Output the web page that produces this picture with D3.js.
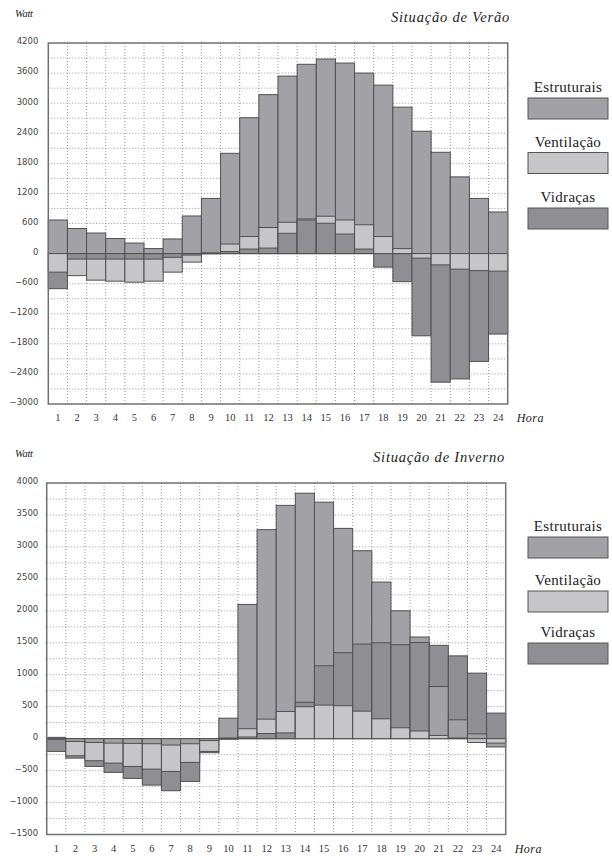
<!DOCTYPE html>
<html>
<head>
<meta charset="utf-8">
<script src="https://cdn.jsdelivr.net/npm/d3@7"></script>
<style>
  body { margin: 0; background: #fff; }
  svg { display: block; }
  .grid line { stroke: #8c8c8c; stroke-width: 0.9; stroke-dasharray: 1, 2; }
  .y-axis text { font-family: "DejaVu Sans", sans-serif; font-size: 8.5px; fill: #444; }
  .x-axis text { font-family: "Liberation Serif", serif; font-size: 10.5px; fill: #333; }
  .serif { font-family: "Liberation Serif", serif; fill: #222; }
</style>
</head>
<body>
<div id="chart-area"></div>
<script>
/* global d3 */
const hours = [1, 2, 3, 4, 5, 6, 7, 8, 9, 10, 11, 12, 13, 14, 15, 16, 17, 18, 19, 20, 21, 22, 23, 24];
const seriesNames = ["Estruturais", "Ventilação", "Vidraças"];
const seriesColors = ["#a2a2a6", "#c6c6c8", "#8f8f93"];

// Situação de Verão (W)
const summerEstruturais = [670, 500, 410, 300, 210, 100, 290, 750, 1100, 2000, 2710, 3170, 3540, 3775, 3880, 3800, 3600, 3360, 2920, 2440, 2020, 1530, 1100, 830];
const summerVentilacao = [-370, -440, -530, -550, -570, -550, -370, -170, -5, 190, 340, 520, 625, 690, 745, 670, 575, 340, 100, -90, -225, -310, -340, -350];
const summerVidracas = [-700, -110, -110, -110, -110, -110, -75, -30, 15, 40, 90, 110, 405, 670, 605, 390, 90, -270, -560, -1640, -2565, -2500, -2150, -1605];
const summerTicks = [4200, 3600, 3000, 2400, 1800, 1200, 600, 0, -600, -1200, -1800, -2400, -3000];

// Situação de Inverno (W)
const winterEstruturais = [20, -44, -60, -70, -75, -80, -100, -80, -30, 320, 2100, 3270, 3650, 3840, 3700, 3290, 2940, 2450, 2000, 1590, 815, 295, 75, -130];
const winterVentilacao = [-10, -268, -346, -383, -435, -477, -513, -372, -200, -10, 155, 305, 425, 500, 525, 515, 430, 310, 170, 120, 50, 10, -60, -70];
const winterVidracas = [-200, -305, -435, -528, -622, -727, -815, -669, -220, 10, 25, 80, 90, 570, 1140, 1345, 1480, 1500, 1470, 1505, 1460, 1295, 1025, 400];
const winterTicks = [4000, 3500, 3000, 2500, 2000, 1500, 1000, 500, 0, -500, -1000, -1500];

let svg = d3
  .select("#chart-area")
  .append("svg")
  .attr("width", 612)
  .attr("height", 856);

function drawPanel(p) {
  let g = svg.append("g");

  let x = d3.scaleBand().domain(hours).range([p.left, p.right]);
  let y = d3.scaleLinear().domain(p.domain).range([p.bottom, p.top]);

  // dotted grid
  let grid = g.append("g").attr("class", "grid");
  grid.selectAll("line.h")
    .data(d3.range(p.domain[0] + p.gridStep, p.domain[1], p.gridStep))
    .join("line")
    .attr("class", "h")
    .attr("x1", p.left).attr("x2", p.right)
    .attr("y1", d => y(d)).attr("y2", d => y(d));
  grid.selectAll("line.v")
    .data(hours.slice(1))
    .join("line")
    .attr("class", "v")
    .attr("x1", d => x(d)).attr("x2", d => x(d))
    .attr("y1", p.top).attr("y2", p.bottom);

  // overlapped bars: in every hour the largest value is drawn first
  let cells = [];
  hours.forEach(function(h, i) {
    let row = p.values.map((vals, k) => ({ hour: h, k: k, v: vals[i] }));
    row.sort((a, b) => Math.abs(b.v) - Math.abs(a.v));
    cells = cells.concat(row);
  });

  g.selectAll("rect.bar")
    .data(cells)
    .join("rect")
    .attr("class", "bar")
    .attr("x", d => x(d.hour))
    .attr("y", d => y(Math.max(0, d.v)))
    .attr("width", x.bandwidth())
    .attr("height", d => Math.abs(y(d.v) - y(0)))
    .attr("fill", d => seriesColors[d.k])
    .attr("stroke", "#505050")
    .attr("stroke-width", 1);

  // frame
  g.append("rect")
    .attr("x", p.left).attr("y", p.top)
    .attr("width", p.right - p.left).attr("height", p.bottom - p.top)
    .attr("fill", "none")
    .attr("stroke", "#707070")
    .attr("stroke-width", 1.5);

  // axes
  let yAxisGroup = g.append("g")
    .attr("class", "y-axis")
    .attr("transform", "translate(" + p.left + ",0)")
    .call(d3.axisLeft(y).tickValues(p.ticks).tickFormat(d3.format("d")).tickSize(0).tickPadding(p.yPad));
  yAxisGroup.select(".domain").remove();
  yAxisGroup.selectAll("text").attr("dy", "0.1em");

  let xAxisGroup = g.append("g")
    .attr("class", "x-axis")
    .attr("transform", "translate(0," + p.bottom + ")")
    .call(d3.axisBottom(x).tickSize(0).tickPadding(10));
  xAxisGroup.select(".domain").remove();

  g.append("text")
    .attr("class", "serif")
    .attr("x", p.right + 9)
    .attr("y", p.bottom + 18)
    .style("font-style", "italic")
    .style("font-size", "12px")
    .style("letter-spacing", "0.5px")
    .text("Hora");

  g.append("text")
    .attr("class", "serif")
    .attr("x", 15)
    .attr("y", p.top - 26)
    .style("font-style", "italic")
    .style("font-size", "10.5px")
    .style("letter-spacing", "-0.3px")
    .text("Watt");

  g.append("text")
    .attr("class", "serif")
    .attr("x", p.titleX)
    .attr("y", p.top - 21)
    .attr("text-anchor", "end")
    .style("font-style", "italic")
    .style("font-size", "14.5px")
    .style("letter-spacing", "0.8px")
    .text(p.title);

  // legend
  let legend = g.selectAll("g.legend")
    .data(seriesNames)
    .join("g")
    .attr("class", "legend")
    .attr("transform", (d, i) => "translate(528," + p.legendTops[i] + ")");
  legend.append("text")
    .attr("class", "serif")
    .attr("x", 40)
    .attr("y", -6)
    .attr("text-anchor", "middle")
    .style("font-size", "15px")
    .style("letter-spacing", "0.3px")
    .text(d => d);
  legend.append("rect")
    .attr("width", 80)
    .attr("height", 21)
    .attr("fill", (d, i) => seriesColors[i])
    .attr("stroke", "#555")
    .attr("stroke-width", 1);
}

drawPanel({
  title: "Situação de Verão",
  values: [summerEstruturais, summerVentilacao, summerVidracas],
  domain: [-3000, 4200],
  gridStep: 300,
  ticks: summerTicks,
  left: 48.3, right: 507.7, top: 43, bottom: 404,
  yPad: 10,
  titleX: 510,
  legendTops: [98, 152.5, 208]
});

drawPanel({
  title: "Situação de Inverno",
  values: [winterEstruturais, winterVentilacao, winterVidracas],
  domain: [-1500, 4000],
  gridStep: 250,
  ticks: winterTicks,
  left: 46.7, right: 505.7, top: 483, bottom: 834.5,
  yPad: 8.5,
  titleX: 505,
  legendTops: [537, 591, 643]
});
</script>
</body>
</html>
